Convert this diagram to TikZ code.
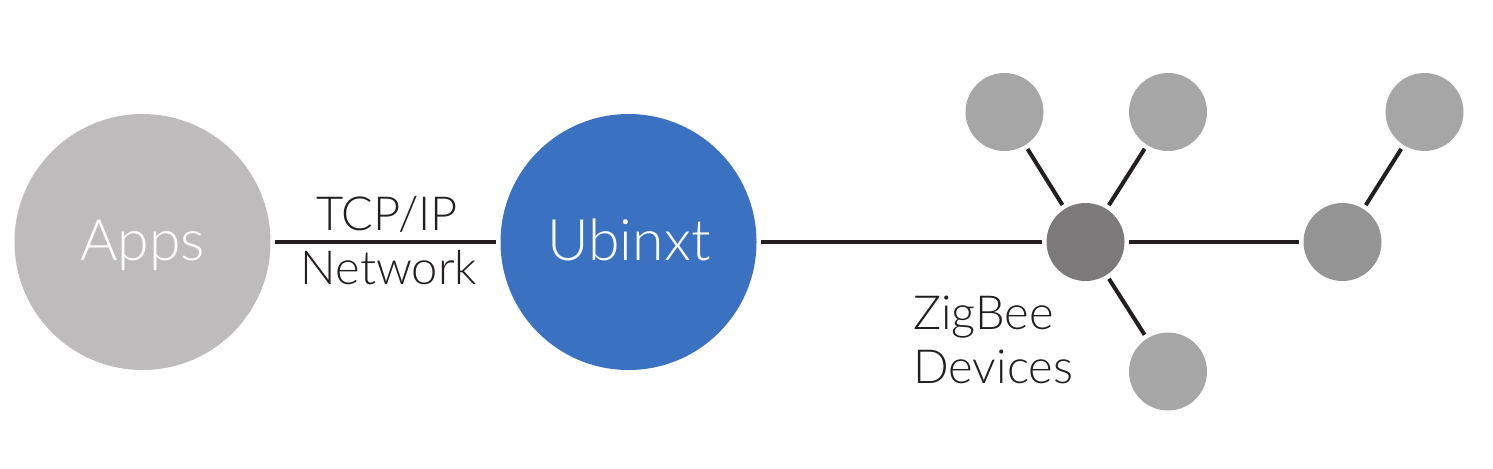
\documentclass[tikz,border=0pt]{standalone}
\usepackage{fontspec}
\setmainfont{Lato Light}
\definecolor{appsgrey}{HTML}{BDBBBB}
\definecolor{ubiblue}{HTML}{3A72C1}
\definecolor{devgrey}{HTML}{A7A6A6}
\definecolor{hubgrey}{HTML}{7B7979}
\definecolor{routegrey}{HTML}{949494}
\definecolor{inkdark}{HTML}{231F20}
\tikzset{
  bigcircle/.style={circle, draw=none, minimum size=128pt, inner sep=0pt, outer sep=0pt},
  devcircle/.style={circle, draw=none, minimum size=39pt, inner sep=0pt, outer sep=0pt},
  link/.style={draw=inkdark, line width=2pt, shorten <=2.3pt, shorten >=2.3pt},
  bigtext/.style={anchor=base, inner sep=0pt, text=white, font=\fontsize{28.6pt}{34pt}\selectfont},
  smalltext/.style={inner sep=0pt, text=inkdark, font=\fontsize{23.5pt}{27pt}\selectfont}
}
\begin{document}
\begin{tikzpicture}[x=0.5pt, y=-0.5pt]
\useasboundingbox (0,0) rectangle (1493,468);
\node[bigcircle, fill=appsgrey] (apps) at (142.5,242) {};
\node[bigcircle, fill=ubiblue] (ubi) at (628.5,242) {};
\node[bigtext] (appslabel) at (142.5,260.5) {Apps};
\node[bigtext] (ubilabel) at (629,260) {Ubinxt};
\node[devcircle, fill=hubgrey] (hub) at (1085.5,242) {};
\node[devcircle, fill=routegrey] (router) at (1342.5,242) {};
\node[devcircle, fill=devgrey] (d1) at (1004.5,112) {};
\node[devcircle, fill=devgrey] (d2) at (1168,112) {};
\node[devcircle, fill=devgrey] (d3) at (1424.5,112) {};
\node[devcircle, fill=devgrey] (d4) at (1168,371.5) {};
\draw[link] (apps) -- (ubi);
\draw[link] (ubi) -- (hub);
\draw[link] (hub) -- (router);
\draw[link] (hub) -- (d1);
\draw[link] (hub) -- (d2);
\draw[link] (hub) -- (d4);
\draw[link] (router) -- (d3);
\node[smalltext, anchor=base] (tcp) at (387,230) {TCP/IP};
\node[smalltext, anchor=base] (net) at (389,284) {Network};
\node[smalltext, anchor=base west] (zig) at (913,329) {ZigBee};
\node[smalltext, anchor=base west] (dev) at (913,383) {Devices};
\end{tikzpicture}
\end{document}
